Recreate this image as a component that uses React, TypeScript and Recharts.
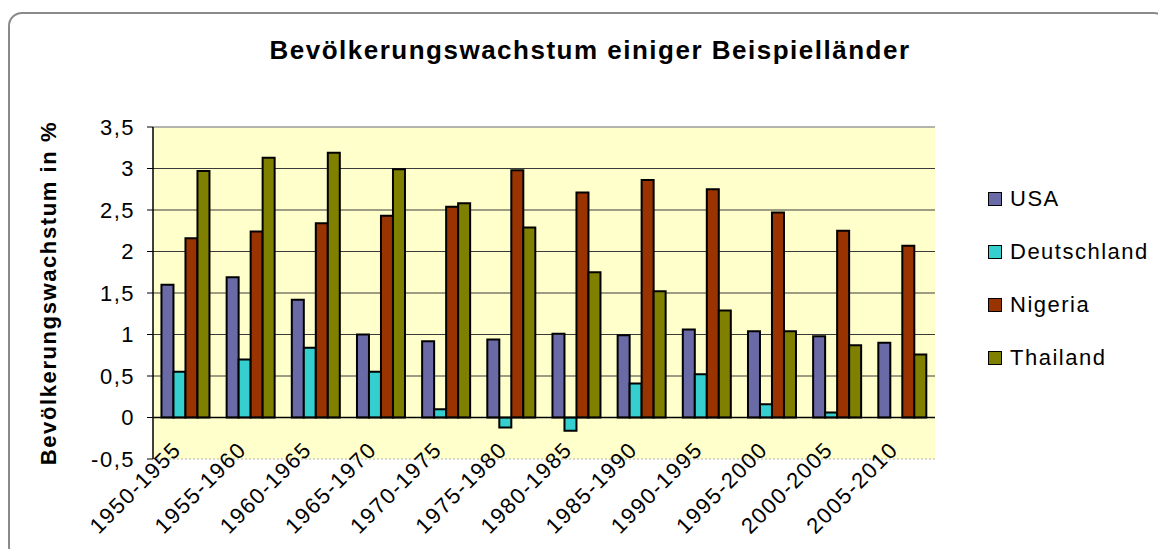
import { BarChart, Bar, XAxis, YAxis, CartesianGrid, ReferenceLine } from "recharts";

const periods = [
  "1950-1955", "1955-1960", "1960-1965", "1965-1970", "1970-1975", "1975-1980",
  "1980-1985", "1985-1990", "1990-1995", "1995-2000", "2000-2005", "2005-2010",
];
const usa = [1.6, 1.69, 1.42, 1.0, 0.92, 0.94, 1.01, 0.99, 1.06, 1.04, 0.98, 0.9];
const deutschland = [0.55, 0.7, 0.84, 0.55, 0.1, -0.12, -0.16, 0.41, 0.52, 0.16, 0.06, null];
const nigeria = [2.16, 2.24, 2.34, 2.43, 2.54, 2.98, 2.71, 2.86, 2.75, 2.47, 2.25, 2.07];
const thailand = [2.97, 3.13, 3.19, 2.99, 2.58, 2.29, 1.75, 1.52, 1.29, 1.04, 0.87, 0.76];
const yTicks = [-0.5, 0, 0.5, 1, 1.5, 2, 2.5, 3, 3.5];

const series = [
  { key: "USA", values: usa, color: "#6a6aa6" },
  { key: "Deutschland", values: deutschland, color: "#36cfcf" },
  { key: "Nigeria", values: nigeria, color: "#993300" },
  { key: "Thailand", values: thailand, color: "#808000" },
];

const data = periods.map((p, i) => {
  const row: any = { period: p };
  series.forEach((s) => (row[s.key] = s.values[i]));
  return row;
});

const FONT = '"Liberation Sans", Arial, sans-serif';

// schräge Beschriftung, Ende ragt leicht in die Zeichenfläche
const XTick = ({ x, y, payload }: any) => {
  const px = x - 3;
  const py = y - 8;
  return (
    <text
      x={px}
      y={py}
      transform={`rotate(-45, ${px}, ${py})`}
      textAnchor="end"
      fontSize={22}
      letterSpacing={1.5}
      fontFamily={FONT}
      fill="#000"
    >
      {payload.value}
    </text>
  );
};

export default function App() {
  return (
    <div
      style={{
        position: "relative",
        top: 4,
        width: 1156,
        height: 545,
        border: "2px solid #8a8a8a",
        borderRadius: 14,
        fontFamily: FONT,
        background: "#fff",
      }}
    >
      <div
        style={{
          position: "absolute",
          left: 0,
          top: 21,
          width: 1160,
          textAlign: "center",
          fontSize: 26,
          lineHeight: "30px",
          fontWeight: "bold",
          letterSpacing: 1.5,
        }}
      >
        Bevölkerungswachstum einiger Beispielländer
      </div>

      <BarChart
        width={1150}
        height={530}
        data={data}
        margin={{ top: 113, right: 225, bottom: 5, left: 73 }}
        barCategoryGap="13%"
        barGap={0}
      >
        <CartesianGrid
          vertical={false}
          horizontalValues={[0.5, 1, 1.5, 2, 2.5, 3]}
          stroke="#3a3a3a"
          fill="#ffffcc"
          fillOpacity={1}
        />
        <XAxis
          dataKey="period"
          interval={0}
          tickSize={0}
          tickMargin={0}
          axisLine={false}
          tickLine={false}
          height={80}
          tick={<XTick />}
        />
        <YAxis
          domain={[-0.5, 3.5]}
          ticks={yTicks}
          interval={0}
          width={70}
          tickSize={6}
          tickMargin={12}
          axisLine={{ stroke: "#000", strokeWidth: 1.5 }}
          tickLine={{ stroke: "#000" }}
          tick={{ fill: "#000", fontSize: 22, letterSpacing: 1.5, fontFamily: FONT }}
          tickFormatter={(v: number) => String(v).replace(".", ",")}
          label={{
            value: "Bevölkerungswachstum in %",
            angle: -90,
            position: "center",
            dx: -70,
            fill: "#000",
            fontSize: 22,
            fontWeight: "bold",
            letterSpacing: 1.6,
            fontFamily: FONT,
          }}
        />
        <YAxis
          yAxisId="r"
          orientation="right"
          domain={[-0.5, 3.5]}
          width={0}
          tick={false}
          tickLine={false}
          axisLine={{ stroke: "#9a9a9a", strokeWidth: 1.5 }}
        />
        <ReferenceLine y={3.5} stroke="#9a9a9a" strokeWidth={1.5} />
        <ReferenceLine y={-0.5} stroke="#b0b0b0" strokeDasharray="2 2" />
        {series.map((s) => (
          <Bar
            key={s.key}
            dataKey={s.key}
            fill={s.color}
            stroke="#000"
            strokeWidth={2}
            isAnimationActive={false}
          />
        ))}
        <ReferenceLine y={0} stroke="#000" strokeWidth={1.5} />
      </BarChart>

      <div style={{ position: "absolute", left: 978, top: 158 }}>
        {series.map((s) => (
          <div
            key={s.key}
            style={{
              display: "flex",
              alignItems: "center",
              height: 53,
              fontSize: 22,
              letterSpacing: 1.5,
            }}
          >
            <span
              style={{
                display: "inline-block",
                width: 12,
                height: 12,
                background: s.color,
                border: "1.5px solid #000",
                marginRight: 8,
              }}
            />
            {s.key}
          </div>
        ))}
      </div>
    </div>
  );
}
